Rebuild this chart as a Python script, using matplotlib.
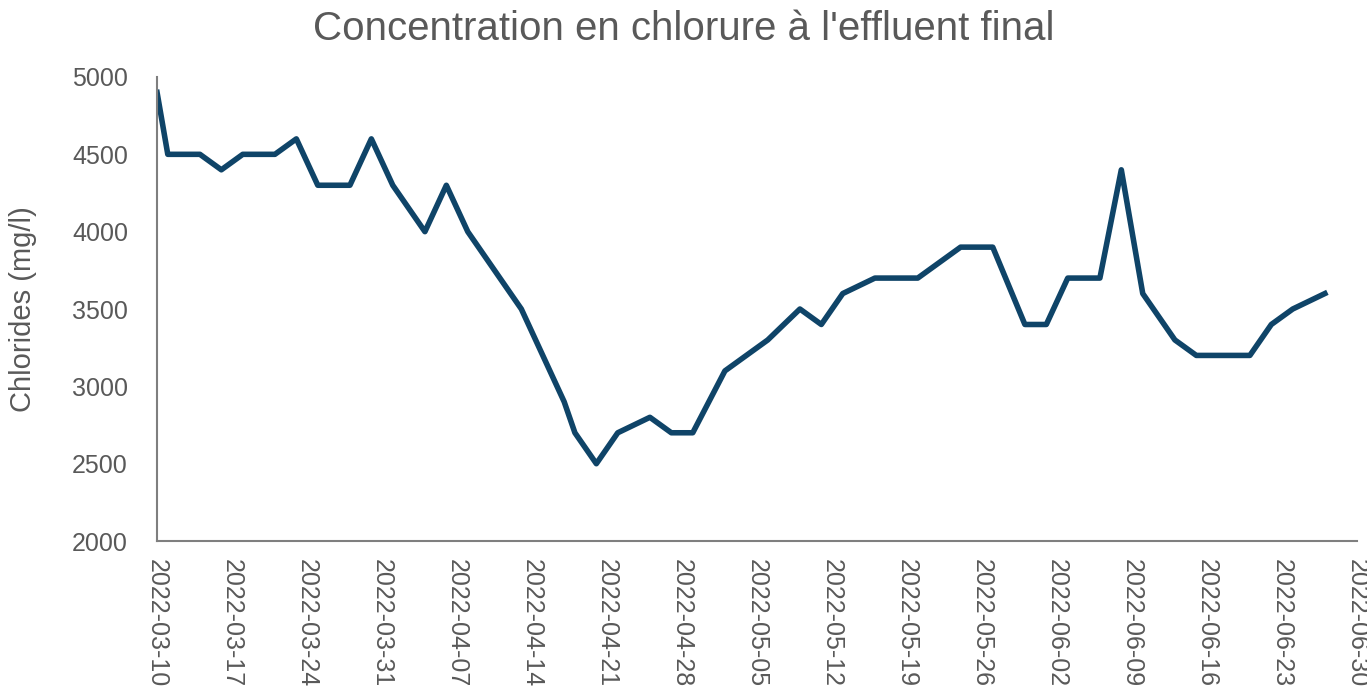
import matplotlib
matplotlib.use("Agg")
import matplotlib.pyplot as plt
import matplotlib.dates as mdates
import pandas as pd

dates = ["2022-03-10", "2022-03-11", "2022-03-14", "2022-03-16", "2022-03-18",
         "2022-03-21", "2022-03-23", "2022-03-25", "2022-03-28", "2022-03-30",
         "2022-04-01", "2022-04-04", "2022-04-06", "2022-04-08", "2022-04-11",
         "2022-04-13", "2022-04-15", "2022-04-17", "2022-04-18", "2022-04-20",
         "2022-04-22", "2022-04-25", "2022-04-27", "2022-04-29", "2022-05-02",
         "2022-05-04", "2022-05-06", "2022-05-09", "2022-05-11", "2022-05-13",
         "2022-05-16", "2022-05-18", "2022-05-20", "2022-05-24", "2022-05-27",
         "2022-05-30", "2022-06-01", "2022-06-03", "2022-06-06", "2022-06-08",
         "2022-06-10", "2022-06-13", "2022-06-15", "2022-06-17", "2022-06-20",
         "2022-06-22", "2022-06-24", "2022-06-27"]
chlorides = [4900, 4500, 4500, 4400, 4500,
             4500, 4600, 4300, 4300, 4600,
             4300, 4000, 4300, 4000, 3700,
             3500, 3200, 2900, 2700, 2500,
             2700, 2800, 2700, 2700, 3100,
             3200, 3300, 3500, 3400, 3600,
             3700, 3700, 3700, 3900, 3900,
             3400, 3400, 3700, 3700, 4400,
             3600, 3300, 3200, 3200, 3200,
             3400, 3500, 3600]

tick_dates = pd.date_range("2022-03-10", "2022-06-30", freq="7D")
y_ticks = [2000, 2500, 3000, 3500, 4000, 4500, 5000]

grey = "#595959"
plt.rcParams['font.family'] = ['Liberation Sans', 'DejaVu Sans']

fig = plt.figure(figsize=(13.67, 6.91), dpi=100)
ax = fig.add_axes([0.1149, 0.217, 0.8778, 0.6716])

ax.plot(pd.to_datetime(dates), chlorides, color="#0f4468", linewidth=4,
        solid_joinstyle="round")

ax.set_xlim(tick_dates[0], tick_dates[-1])
ax.set_ylim(2000, 5000)
ax.set_xticks(tick_dates)
ax.xaxis.set_major_formatter(mdates.DateFormatter("%Y-%m-%d"))
ax.set_yticks(y_ticks)

for lbl in ax.get_xticklabels():
    lbl.set_rotation(-90)
    lbl.set_ha("center")
    lbl.set_va("top")

ax.tick_params(axis="both", length=0, labelsize=18, colors=grey)
ax.tick_params(axis="y", pad=21)
ax.tick_params(axis="x", pad=13)

for side in ["top", "right"]:
    ax.spines[side].set_visible(False)
for side in ["left", "bottom"]:
    ax.spines[side].set_color("#7f7f7f")
    ax.spines[side].set_linewidth(1.5)

ax.set_ylabel("Chlorides (mg/l)", fontsize=21, color=grey)
ax.yaxis.set_label_coords(-0.1, 0.5)

fig.text(0.5, 0.958, "Concentration en chlorure à l'effluent final",
         ha="center", va="center", fontsize=29, color=grey)

fig.savefig("out.png", dpi=100)
